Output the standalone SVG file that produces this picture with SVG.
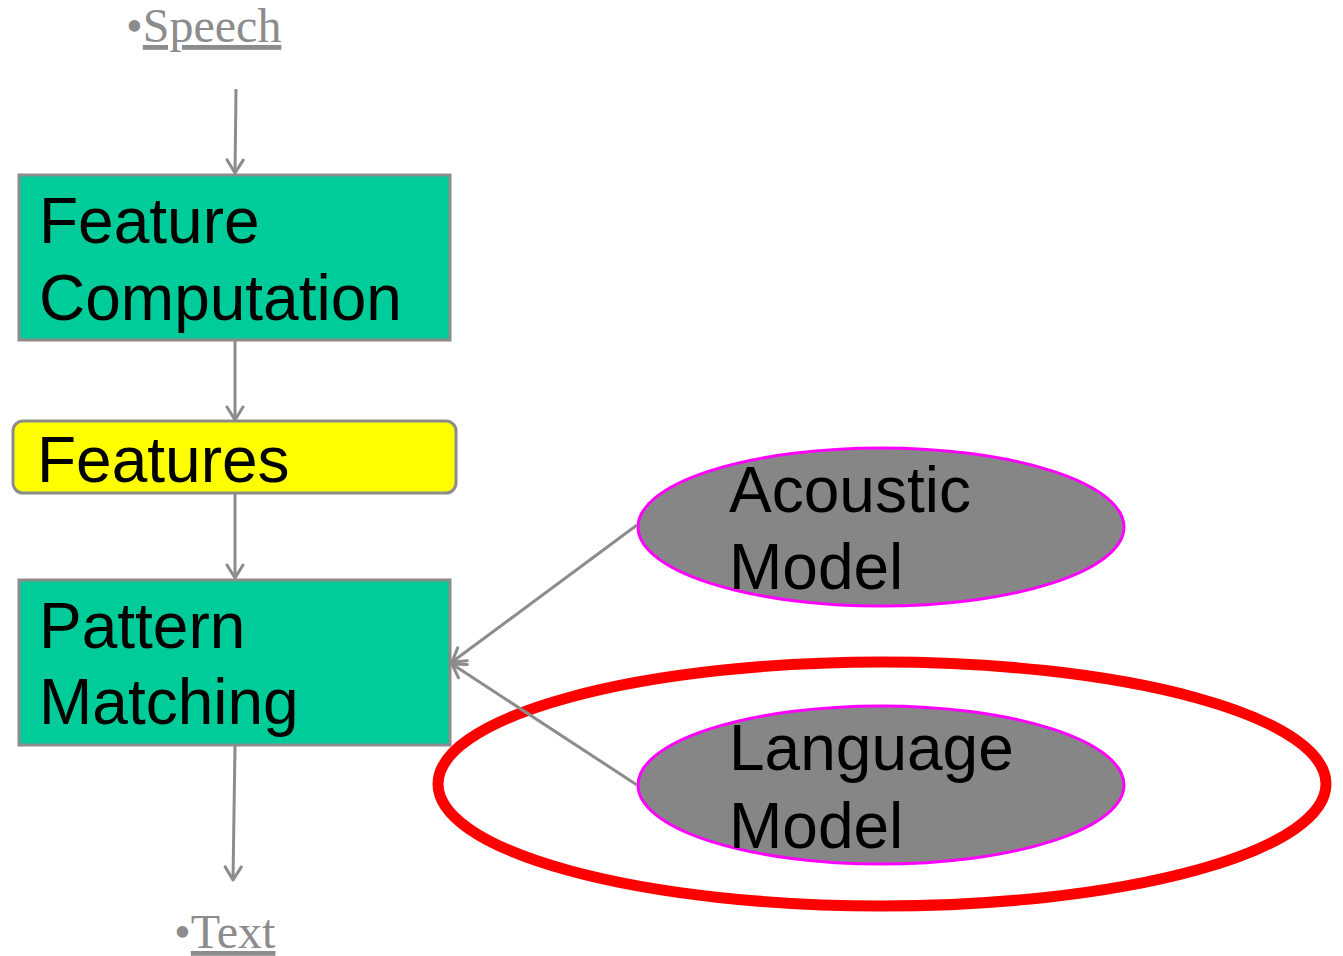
<svg xmlns="http://www.w3.org/2000/svg" width="1343" height="956" viewBox="0 0 1343 956">
<style>
.box{fill:#00CC99;stroke:#8C8C8C;stroke-width:3}
.feat{fill:#FFFF00;stroke:#8C8C8C;stroke-width:3}
.ell{fill:#868686;stroke:#FF00FF;stroke-width:3}
.lbl{font-family:"Liberation Sans",Arial,sans-serif;font-size:64px;fill:#000}
.ser{font-family:"Liberation Serif","Times New Roman",serif;font-size:48px;fill:#8C8C8C}
.con{stroke:#8C8C8C;stroke-width:3;fill:none;marker-end:url(#ah)}
</style>
<defs>
<marker id="ah" markerUnits="userSpaceOnUse" markerWidth="20" markerHeight="20" viewBox="0 0 20 20" refX="15" refY="10" orient="auto">
<path d="M2,2 L15,10 L2,18" fill="none" stroke="#8C8C8C" stroke-width="3" stroke-linecap="round" stroke-linejoin="round"/>
</marker>
</defs>
<g id="speech">
<text class="ser" x="126" y="42">•<tspan text-decoration="underline">Speech</tspan></text>
</g>
<g id="text-out">
<text class="ser" x="174" y="948">•<tspan text-decoration="underline">Text</tspan></text>
</g>
<g id="feature-computation">
<rect class="box" x="19" y="175" width="431" height="165"/>
<text class="lbl" x="39" y="243">Feature</text>
<text class="lbl" x="39" y="320">Computation</text>
</g>
<g id="features">
<rect class="feat" x="13" y="421" width="443" height="72" rx="10"/>
<text class="lbl" x="37" y="482">Features</text>
</g>
<g id="pattern-matching">
<rect class="box" x="19" y="580" width="431" height="165"/>
<text class="lbl" x="39" y="648">Pattern</text>
<text class="lbl" x="39" y="724">Matching</text>
</g>
<g id="highlight">
<ellipse cx="882" cy="784" rx="444" ry="122" fill="none" stroke="#FF0000" stroke-width="11"/>
</g>
<g id="acoustic-model">
<ellipse class="ell" cx="881" cy="527" rx="243" ry="79"/>
<text class="lbl" x="729" y="512">Acoustic</text>
<text class="lbl" x="729" y="589">Model</text>
</g>
<g id="language-model">
<ellipse class="ell" cx="881" cy="785" rx="243" ry="79"/>
<text class="lbl" x="729" y="770">Language</text>
<text class="lbl" x="729" y="848">Model</text>
</g>
<g id="connectors">
<line class="con" x1="236" y1="89" x2="235" y2="173"/>
<line class="con" x1="235" y1="341" x2="235" y2="420"/>
<line class="con" x1="235" y1="494" x2="235" y2="578"/>
<line class="con" x1="235" y1="746" x2="233" y2="880"/>
<line class="con" x1="637" y1="525" x2="452" y2="662"/>
<line class="con" x1="637" y1="785" x2="452" y2="664"/>
</g>
</svg>
